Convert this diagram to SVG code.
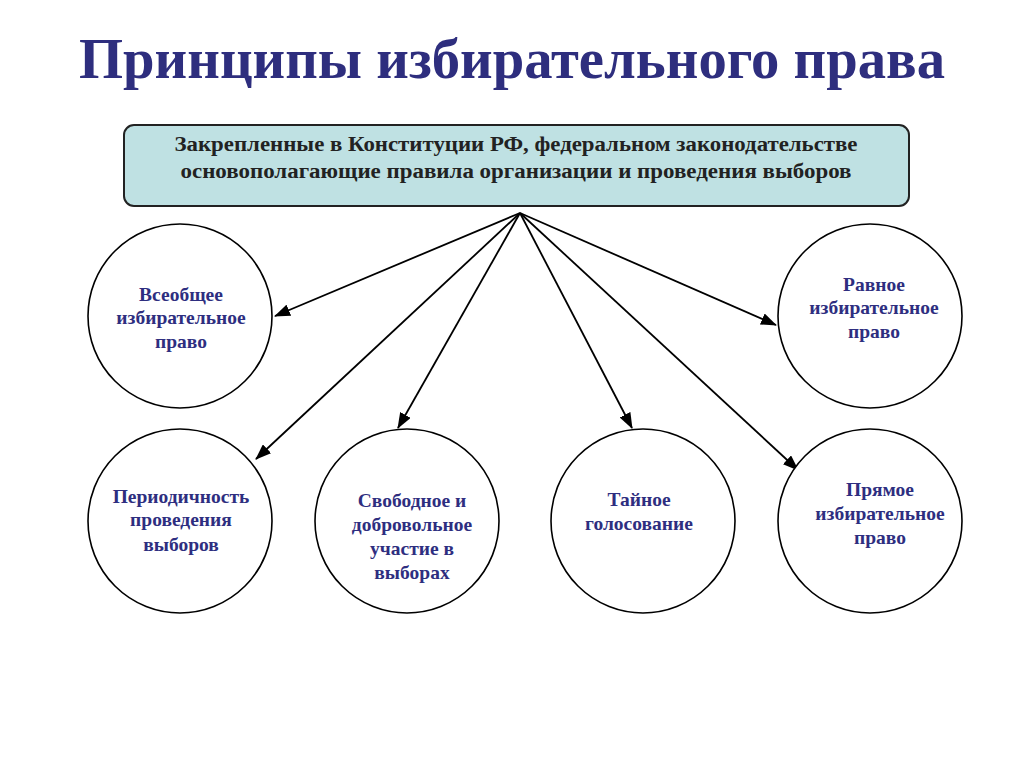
<svg xmlns="http://www.w3.org/2000/svg" width="1024" height="767" viewBox="0 0 1024 767">
<style>
.title{font-family:"Liberation Serif",serif;font-weight:bold;font-size:56px;fill:#2e2e7e;text-anchor:middle}
.box{fill:#bfe1e3;stroke:#222;stroke-width:2}
.boxt{font-family:"Liberation Serif",serif;font-weight:bold;font-size:20px;fill:#222;text-anchor:middle}
.c{fill:#fff;stroke:#000;stroke-width:1.6}
.ct{font-family:"Liberation Serif",serif;font-weight:bold;font-size:19.5px;fill:#2e2e80;text-anchor:middle}
.ar{stroke:#000;stroke-width:1.8;fill:none;marker-end:url(#ah)}
</style>
<defs>
<marker id="ah" markerWidth="16" markerHeight="12" refX="15" refY="6" orient="auto" markerUnits="userSpaceOnUse">
<path d="M0,0 L16,6 L0,12 z" fill="#000"/>
</marker>
</defs>
<rect width="1024" height="767" fill="#fff"/>
<text class="title" x="512" y="78" textLength="866" lengthAdjust="spacingAndGlyphs">Принципы избирательного права</text>
<g id="top">
<rect class="box" x="124" y="125" width="785" height="81" rx="10"/>
<text class="boxt" x="516" y="151" textLength="683" lengthAdjust="spacingAndGlyphs">Закрепленные в Конституции РФ, федеральном законодательстве</text>
<text class="boxt" x="516" y="178" textLength="671" lengthAdjust="spacingAndGlyphs">основополагающие правила организации и проведения выборов</text>
</g>
<g id="connectors">
<line class="ar" x1="520" y1="213" x2="275" y2="316"/>
<line class="ar" x1="520" y1="213" x2="256" y2="459"/>
<line class="ar" x1="520" y1="213" x2="398" y2="428"/>
<line class="ar" x1="520" y1="213" x2="632" y2="428"/>
<line class="ar" x1="520" y1="213" x2="798" y2="470"/>
<line class="ar" x1="520" y1="213" x2="776" y2="325"/>
</g>
<g id="n1">
<circle class="c" cx="180" cy="316" r="92"/>
<text class="ct" x="181" y="301">Всеобщее</text>
<text class="ct" x="181" y="324">избирательное</text>
<text class="ct" x="181" y="348">право</text>
</g>
<g id="n2">
<circle class="c" cx="870" cy="316" r="92"/>
<text class="ct" x="874" y="291">Равное</text>
<text class="ct" x="874" y="314">избирательное</text>
<text class="ct" x="874" y="338">право</text>
</g>
<g id="n3">
<circle class="c" cx="180" cy="521" r="92"/>
<text class="ct" x="181" y="503">Периодичность</text>
<text class="ct" x="181" y="526">проведения</text>
<text class="ct" x="181" y="551">выборов</text>
</g>
<g id="n4">
<circle class="c" cx="407" cy="521" r="92"/>
<text class="ct" x="412" y="507">Свободное и</text>
<text class="ct" x="412" y="531">добровольное</text>
<text class="ct" x="412" y="555">участие в</text>
<text class="ct" x="412" y="579">выборах</text>
</g>
<g id="n5">
<circle class="c" cx="643" cy="521" r="92"/>
<text class="ct" x="639" y="506">Тайное</text>
<text class="ct" x="639" y="530">голосование</text>
</g>
<g id="n6">
<circle class="c" cx="870" cy="521" r="92"/>
<text class="ct" x="880" y="496">Прямое</text>
<text class="ct" x="880" y="520">избирательное</text>
<text class="ct" x="880" y="544">право</text>
</g>
</svg>
